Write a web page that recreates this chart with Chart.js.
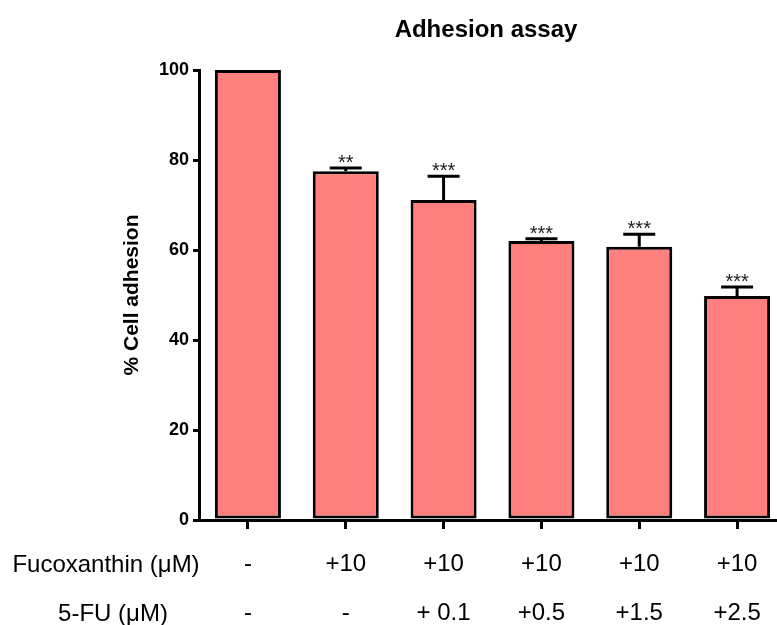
<!DOCTYPE html>
<html>
<head>
<meta charset="utf-8">
<script src="https://cdn.jsdelivr.net/npm/chart.js@4.4.1/dist/chart.umd.min.js"></script>
<style>
  html, body { margin: 0; padding: 0; background: #fff; overflow: hidden; }
  body { width: 777px; height: 625px; }
  #wrap { width: 800px; height: 625px; }
</style>
</head>
<body>
<div id="wrap"><canvas id="adhesionChart"></canvas></div>
<script>
// data
const fucoRow = ['-', '+10', '+10', '+10', '+10', '+10'];
const fuRow = ['-', '-', '+ 0.1', '+0.5', '+1.5', '+2.5'];
const adhesion = [100, 77.5, 71.1, 62.0, 60.7, 49.8];
const sem = [0, 0.7, 5.3, 0.5, 2.8, 2.0];
const stars = ['', '**', '***', '***', '***', '***'];
const yTicks = [0, 20, 40, 60, 80, 100];

const FONT = '"Liberation Sans", Arial, sans-serif';

// x labels as two stacked rows
const xLabels = fucoRow.map((f, i) => [f, fuRow[i]]);

// error bars + significance stars
const errorBarPlugin = {
    id: 'errorBars',
    afterDatasetsDraw(chart) {
        const ctx = chart.ctx;
        const yScale = chart.scales.y;
        const meta = chart.getDatasetMeta(0);
        ctx.save();
        ctx.strokeStyle = '#000';
        ctx.lineWidth = 3;
        meta.data.forEach((bar, i) => {
            const top = yScale.getPixelForValue(adhesion[i]);
            const capY = yScale.getPixelForValue(adhesion[i] + sem[i]);
            if (sem[i] > 0) {
                ctx.beginPath();
                ctx.moveTo(bar.x, top);
                ctx.lineTo(bar.x, capY);
                ctx.moveTo(bar.x - 16, capY);
                ctx.lineTo(bar.x + 16, capY);
                ctx.stroke();
            }
            if (stars[i]) {
                ctx.fillStyle = '#222';
                ctx.font = '20px ' + FONT;
                ctx.textAlign = 'center';
                ctx.textBaseline = 'alphabetic';
                ctx.fillText(stars[i], bar.x, capY + 1);
            }
        });
        ctx.restore();
    }
};

// chart title and row headers for the x labels
const extraTextPlugin = {
    id: 'extraText',
    afterDraw(chart) {
        const ctx = chart.ctx;
        ctx.save();
        ctx.fillStyle = '#000';
        ctx.textAlign = 'center';
        ctx.font = 'bold 24px ' + FONT;
        ctx.textBaseline = 'alphabetic';
        ctx.fillText('Adhesion assay', 486, 37);

        ctx.font = '24px ' + FONT;
        ctx.textBaseline = 'middle';
        ctx.fillText('Fucoxanthin (μM)', 106, 565);
        ctx.fillText('5-FU (μM)', 113, 614);
        ctx.restore();
    }
};

new Chart(document.getElementById('adhesionChart'), {
    type: 'bar',
    data: {
        labels: xLabels,
        datasets: [{
            data: adhesion,
            backgroundColor: '#FF7F7F',
            borderColor: '#000',
            borderWidth: 3,
            borderSkipped: false,
            barPercentage: 0.675,
            categoryPercentage: 1
        }]
    },
    plugins: [errorBarPlugin, extraTextPlugin],
    options: {
        responsive: true,
        maintainAspectRatio: false,
        animation: false,
        layout: { padding: { top: 70, right: 14, left: 0, bottom: 0 } },
        plugins: {
            legend: { display: false },
            tooltip: { enabled: false }
        },
        scales: {
            x: {
                grid: {
                    offset: false,
                    drawOnChartArea: false,
                    drawTicks: true,
                    tickLength: 9,
                    lineWidth: 3,
                    color: '#000'
                },
                border: { display: true, color: '#000', width: 3 },
                ticks: {
                    color: '#000',
                    font: { family: FONT, size: 24, lineHeight: 2.04 },
                    padding: 11,
                    maxRotation: 0,
                    autoSkip: false
                },
                afterFit(scale) { scale.height = 105; }
            },
            y: {
                min: 0,
                max: 100,
                afterBuildTicks(scale) {
                    scale.ticks = yTicks.map(v => ({ value: v }));
                },
                grid: {
                    drawOnChartArea: false,
                    drawTicks: true,
                    tickLength: 6,
                    lineWidth: 3,
                    color: '#000'
                },
                border: { display: true, color: '#000', width: 3 },
                ticks: {
                    color: '#000',
                    padding: 4,
                    font: { family: FONT, size: 18, weight: 'bold' }
                },
                title: {
                    display: true,
                    text: '% Cell adhesion',
                    color: '#000',
                    font: { family: FONT, size: 21, weight: 'bold' },
                    padding: { top: 120, bottom: 0 }
                },
                afterFit(scale) { scale.width = 199; }
            }
        }
    }
});
</script>
</body>
</html>
